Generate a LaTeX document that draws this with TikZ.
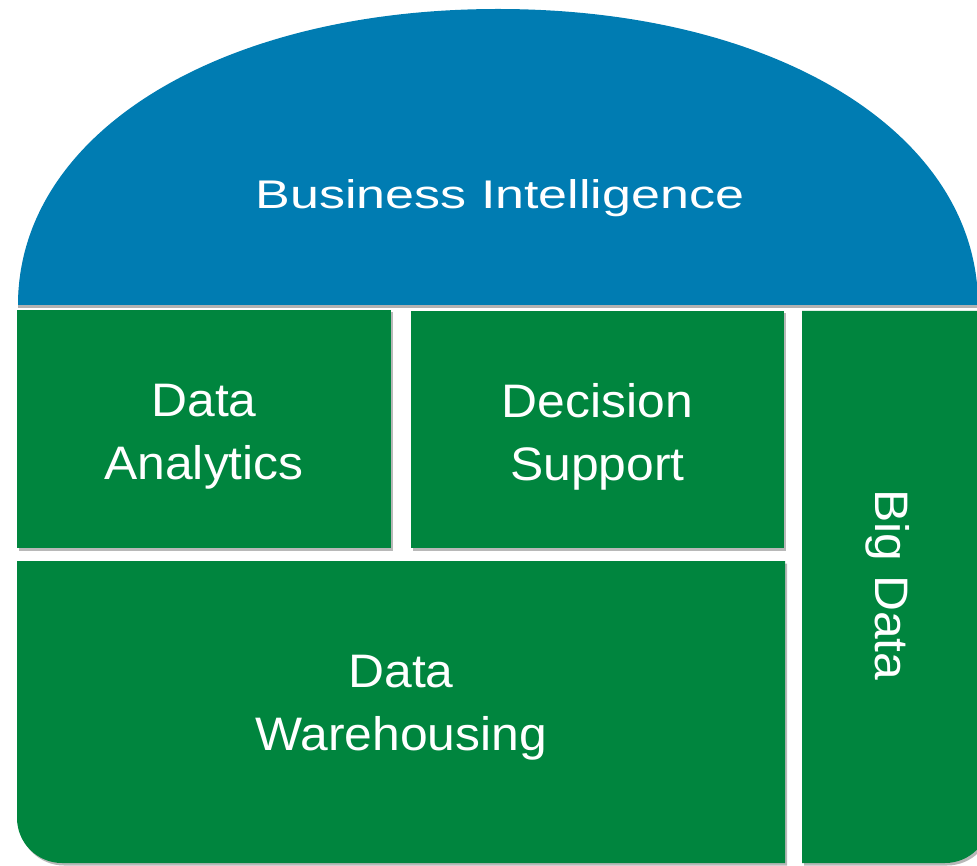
\documentclass[tikz,border=0pt]{standalone}
\usepackage{fontspec}
\setmainfont{Liberation Sans}
\newfontfamily\bifont[FakeStretch=1.3]{Liberation Sans}
\newfontfamily\gfont[FakeStretch=1.06]{Liberation Sans}
\usetikzlibrary{shadows}
\definecolor{biblue}{RGB}{0,124,178}
\definecolor{bigreen}{RGB}{0,133,62}
\begin{document}
\begin{tikzpicture}[x=1pt,y=1pt,
  shad/.style={drop shadow={shadow xshift=2pt, shadow yshift=-2.5pt, opacity=0.28, fill=black}},
  gbox/.style={fill=bigreen, draw=none, inner sep=0pt, shad},
  gtxt/.style={text=white, font=\gfont\fontsize{47}{63}\selectfont, align=center, inner sep=0pt},
  bitxt/.style={text=white, font=\bifont\fontsize{40}{48}\selectfont, inner sep=0pt}]
\useasboundingbox (0,0) rectangle (977,-866);
\clip (0,0) rectangle (977,-866);
% dome
\fill[biblue, drop shadow={shadow xshift=0pt, shadow yshift=-3pt, opacity=0.3, fill=black}]
  (18,-305) .. controls (18,-133.3) and (219.6,-9) .. (498,-9)
  .. controls (776.4,-9) and (978,-133.3) .. (978,-305) -- cycle;
\node[bitxt, anchor=base] (bi) at (500,-209) {Business Intelligence};
% boxes
\node[gbox, minimum width=374pt, minimum height=238pt] (da) at (204,-429) {};
\node[gbox, minimum width=373pt, minimum height=237pt] (ds) at (597.5,-429.5) {};
\fill[bigreen, shad] (17,-561) -- (17,-818) arc[start angle=180, end angle=270, radius=45]
  -- (785,-863) -- (785,-561) -- cycle;
\fill[bigreen, shad] (802,-311) -- (802,-863) -- (945,-863) arc[start angle=-90, end angle=0, radius=45]
  -- (990,-311) -- cycle;
% texts
\node[gtxt] (tda) at (204,-436.6) {Data\\Analytics};
\node[gtxt] (tds) at (597.5,-436.6) {Decision\\Support};
\node[gtxt] (tdw) at (401,-707.6) {Data\\Warehousing};
\node[gtxt, rotate=-90, anchor=base] (tbd) at (875,-585) {Big Data};
\end{tikzpicture}
\end{document}
